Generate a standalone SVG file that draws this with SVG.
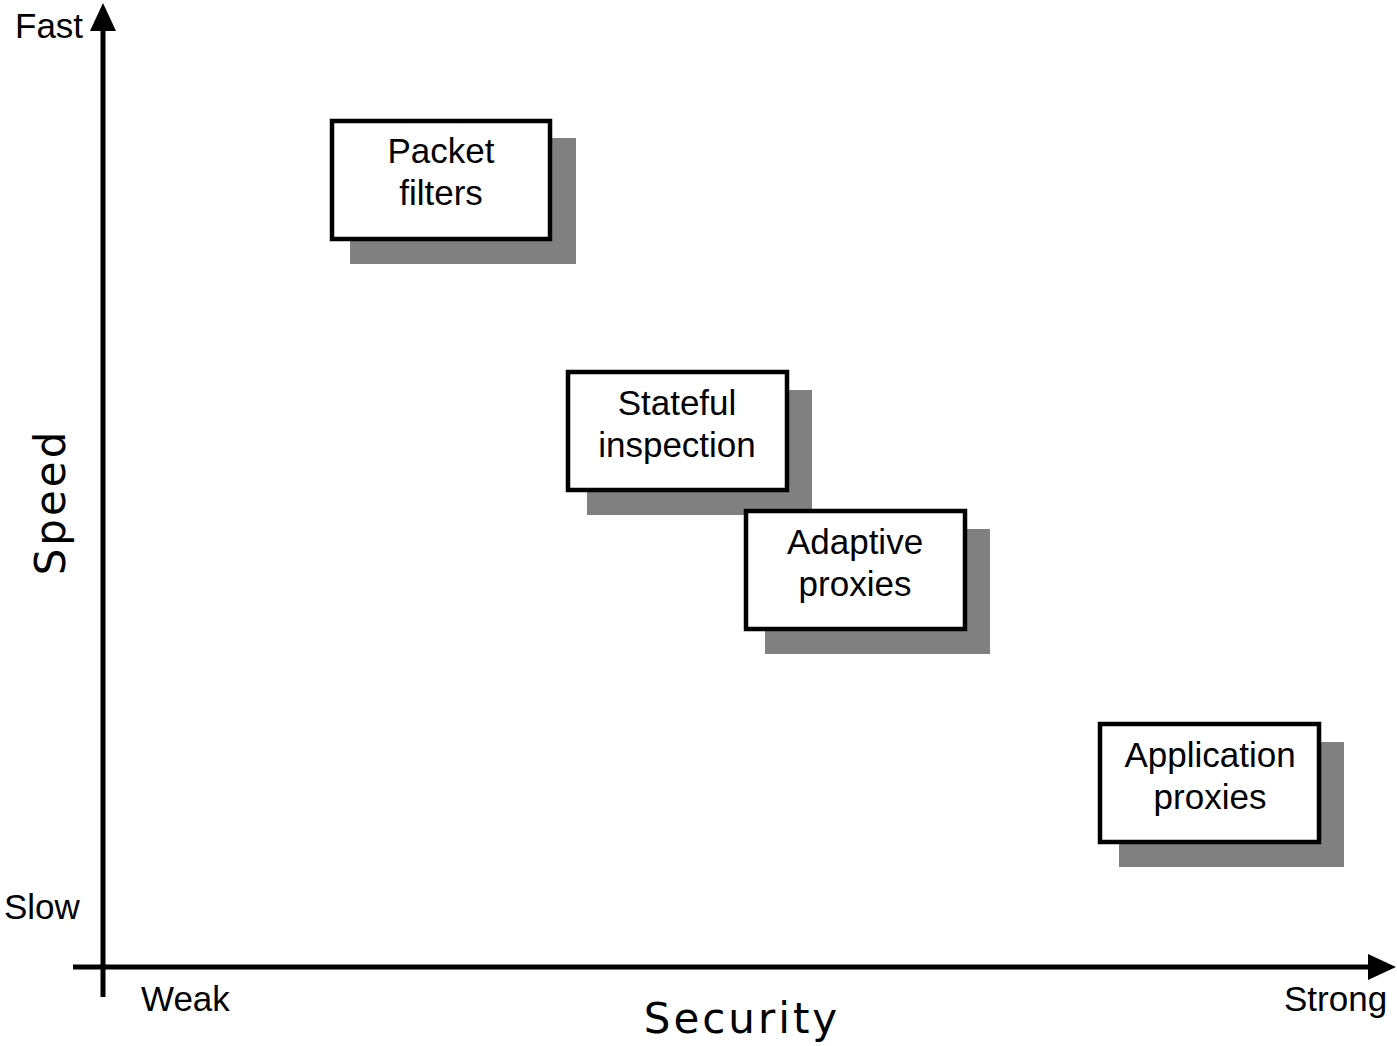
<svg xmlns="http://www.w3.org/2000/svg" width="1397" height="1046" viewBox="0 0 1397 1046">
<style>
.lbl{font-family:"Liberation Sans",Arial,sans-serif;font-size:35px;fill:#000}
.ctr{text-anchor:middle}
.ax{font-family:"DejaVu Sans",sans-serif;font-size:42px;fill:#000;letter-spacing:3px}
.box{fill:#fff;stroke:#000;stroke-width:4.5}
.shd{fill:#808080}
.axl{stroke:#000;stroke-width:5;fill:none}
</style>
<rect width="1397" height="1046" fill="#fff"/>
<g id="connectors">
<line class="axl" x1="103" y1="997" x2="103" y2="28"/>
<polygon points="103,3 90,31 116,31" fill="#000"/>
<line class="axl" x1="73" y1="967" x2="1370" y2="967"/>
<polygon points="1396,967 1368,954 1368,980" fill="#000"/>
</g>
<g id="axis-labels">
<text class="lbl" x="15" y="38">Fast</text>
<text class="lbl" x="4" y="919">Slow</text>
<text class="lbl" x="141" y="1011">Weak</text>
<text class="lbl" x="1284" y="1011">Strong</text>
<text class="ax ctr" x="742" y="1033">Security</text>
<text class="ax ctr" transform="translate(65,502) rotate(-90)">Speed</text>
</g>
<g id="packet-filters">
<rect class="shd" x="350" y="138" width="226" height="126"/>
<rect class="box" x="332" y="121" width="218" height="118"/>
<text class="lbl ctr" x="441" y="163">Packet</text>
<text class="lbl ctr" x="441" y="205">filters</text>
</g>
<g id="stateful-inspection">
<rect class="shd" x="587" y="390" width="225" height="125"/>
<rect class="box" x="568" y="372" width="219" height="118"/>
<text class="lbl ctr" x="677" y="415">Stateful</text>
<text class="lbl ctr" x="677" y="457">inspection</text>
</g>
<g id="adaptive-proxies">
<rect class="shd" x="765" y="529" width="225" height="125"/>
<rect class="box" x="746" y="511" width="219" height="118"/>
<text class="lbl ctr" x="855" y="554">Adaptive</text>
<text class="lbl ctr" x="855" y="596">proxies</text>
</g>
<g id="application-proxies">
<rect class="shd" x="1119" y="742" width="225" height="125"/>
<rect class="box" x="1100" y="724" width="219" height="118"/>
<text class="lbl ctr" x="1210" y="767">Application</text>
<text class="lbl ctr" x="1210" y="809">proxies</text>
</g>
</svg>
